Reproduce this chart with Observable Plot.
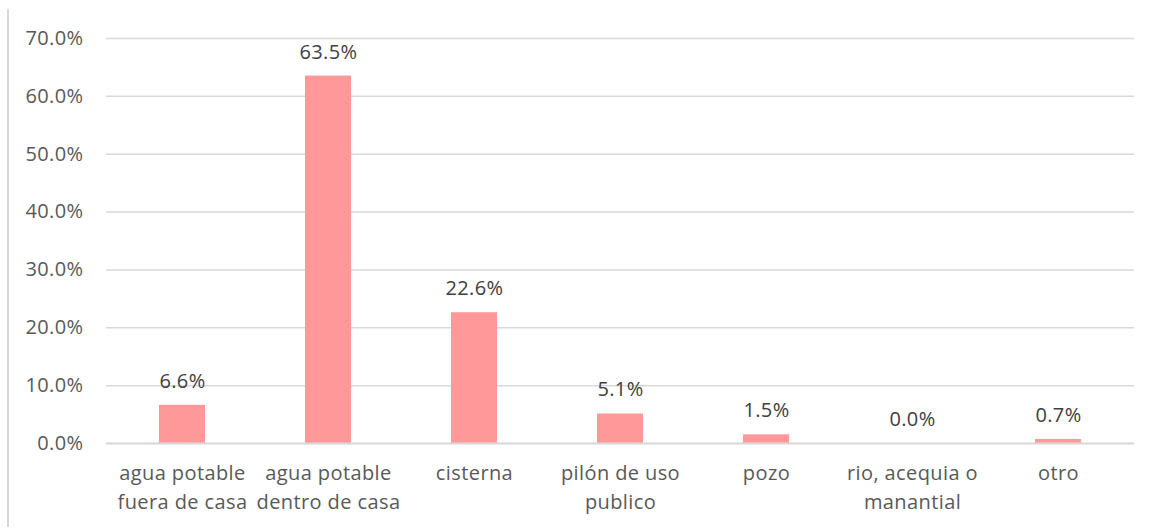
<!DOCTYPE html>
<html><head><meta charset="utf-8">
<script src="https://cdn.jsdelivr.net/npm/d3@7"></script>
<script src="https://cdn.jsdelivr.net/npm/@observablehq/plot@0.6"></script>
<style>
body{margin:0;background:#fff;}
#wrap{position:relative;width:1159px;height:527px;}
#border{position:absolute;left:7px;top:9px;width:2px;height:518px;background:#d9d9d9;}
#chart{position:absolute;left:0;top:0;}
#chart text{letter-spacing:0.4px;}
</style></head>
<body><div id="wrap"><div id="border"></div><div id="chart"></div></div>
<script>
const categories = ["agua potable\nfuera de casa","agua potable\ndentro de casa","cisterna","pilón de uso\npublico","pozo","rio, acequia o\nmanantial","otro"];
const values = [6.6, 63.5, 22.6, 5.1, 1.5, 0.0, 0.7];
const yTicks = [0,10,20,30,40,50,60,70];
const data = categories.map((c,i)=>({cat:c, v:values[i]}));
const font = "'Open Sans', sans-serif";
const chart = Plot.plot({
  width:1159, height:527,
  marginLeft:106, marginRight:25, marginTop:38, marginBottom:84,
  style:{fontFamily:font, fontSize:"20px", color:"#595959", background:"transparent"},
  x:{domain:categories, paddingInner:0.687, paddingOuter:0.3435, label:null},
  y:{domain:[0,70], label:null},
  marks:[
    Plot.gridY(yTicks,{stroke:"#d9d9d9", strokeOpacity:1, strokeWidth:1.5}),
    Plot.axisY(yTicks,{tickSize:0, tickPadding:23, tickFormat:d=>d.toFixed(1)+"%", fill:"#595959", fontSize:20, label:null}),
    Plot.axisX({tickSize:0, tickPadding:16, fill:"#595959", fontSize:20, lineHeight:1.45, label:null, textAnchor:"middle"}),
    Plot.barY(data,{x:"cat", y:"v", fill:"#ff9999"}),
    Plot.ruleY([0],{stroke:"#d9d9d9", strokeWidth:2}),
    Plot.text(data,{x:"cat", y:"v", text:d=>d.v.toFixed(1)+"%", dy:-24, fill:"#404040", fontSize:20})
  ]
});
document.getElementById("chart").append(chart);
</script></body></html>
